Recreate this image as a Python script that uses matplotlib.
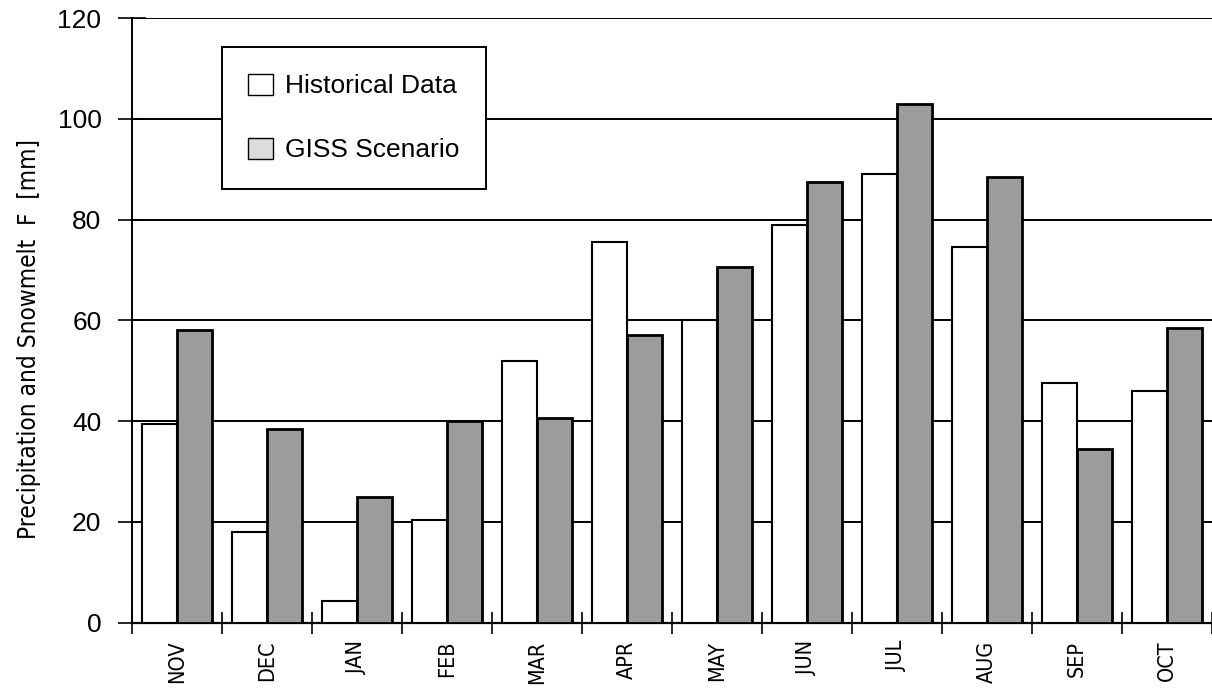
import numpy as np
import matplotlib
matplotlib.use('Agg')
import matplotlib.pyplot as plt
from matplotlib.patches import Patch

months = ['NOV', 'DEC', 'JAN', 'FEB', 'MAR', 'APR', 'MAY', 'JUN', 'JUL', 'AUG', 'SEP', 'OCT']
historical = [39.5, 18.0, 4.3, 20.3, 52.0, 75.5, 60.0, 79.0, 89.0, 74.5, 47.5, 46.0]
giss = [58.0, 38.5, 25.0, 40.0, 40.7, 57.0, 70.5, 87.5, 103.0, 88.5, 34.5, 58.5]
yticks = [0, 20, 40, 60, 80, 100, 120]

plt.rcParams['font.family'] = ['Liberation Sans', 'DejaVu Sans']

fig = plt.figure(figsize=(12.12, 6.98), dpi=100)
ax = fig.add_axes([0.1089, 0.108, 0.8911, 0.866])

x = np.arange(len(months))
w = 0.39
ax.bar(x - w / 2, historical, w, color='white', edgecolor='black', linewidth=1.5, zorder=3)
ax.bar(x + w / 2, giss, w, color='#9c9c9c', edgecolor='black', linewidth=2, zorder=3)

ax.set_xlim(-0.5, len(months) - 0.5)
ax.set_ylim(0, 120)
ax.set_yticks(yticks)
ax.grid(axis='y', color='black', linewidth=1.4, zorder=0)
ax.set_axisbelow(True)

for s in ['top', 'right']:
    ax.spines[s].set_visible(False)
ax.spines['left'].set_linewidth(1.4)
ax.spines['bottom'].set_linewidth(1.6)

ax.set_xticks(x)
ax.set_xticklabels(months, rotation=90, family='DejaVu Sans', fontstretch='condensed', fontsize=15.5)
ax.set_xticks(np.arange(-0.5, len(months)), minor=True)
ax.tick_params(axis='x', which='major', length=0, pad=13)
ax.tick_params(axis='x', which='minor', length=16, direction='inout', width=1.2)
ax.tick_params(axis='y', length=20, direction='inout', width=1.2, pad=12, labelsize=19)

ax.set_ylabel('Precipitation and Snowmelt  F  [mm]', family='DejaVu Sans',
              fontstretch='condensed', fontsize=17.5)
ax.yaxis.set_label_coords(-0.084, 0.47)

handles = [Patch(facecolor='white', edgecolor='black', linewidth=1),
           Patch(facecolor='#dcdcdc', edgecolor='black', linewidth=1)]
leg = ax.legend(handles, ['Historical Data', 'GISS Scenario'], loc='upper left',
                bbox_to_anchor=(0.083, 0.952), borderaxespad=0, fontsize=19,
                fancybox=False, framealpha=1, edgecolor='black', borderpad=1.0,
                labelspacing=1.5, handlelength=0.95, handleheight=0.85, handletextpad=0.45)
leg.get_frame().set_linewidth(1.4)
leg.set_zorder(5)

fig.savefig('out.png', dpi=100)
